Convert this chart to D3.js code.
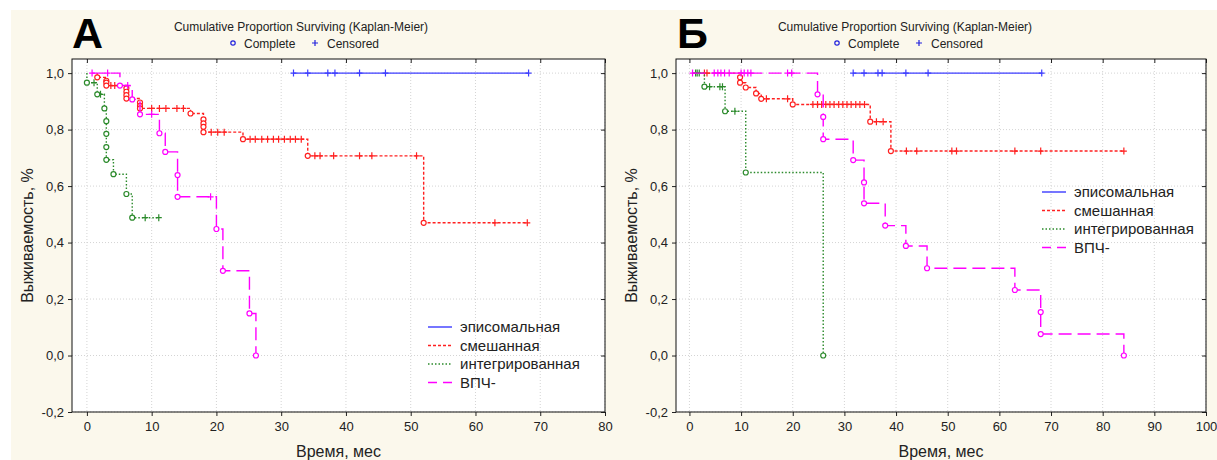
<!DOCTYPE html>
<html>
<head>
<meta charset="utf-8">
<script src="https://cdn.jsdelivr.net/npm/d3@7"></script>
<style>
body { margin: 0; background: #fff; }
text { font-family: Arial, "Liberation Sans", sans-serif; }
</style>
</head>
<body>
<svg id="chart" width="1217" height="460"></svg>
<script>
// Kaplan-Meier curves, two panels (A / Б)

var groupNames = ["эписомальная", "смешанная", "интегрированная", "ВПЧ-"];
var groupColors = ["#3c3cff", "#ff2020", "#2b8a2b", "#ff00ff"];
var groupDash = [null, "3,2", "1.5,2", "13,6"];

var yTicks = [-0.2, 0, 0.2, 0.4, 0.6, 0.8, 1.0];
var xTicksA = [0, 10, 20, 30, 40, 50, 60, 70, 80];
var xTicksB = [0, 10, 20, 30, 40, 50, 60, 70, 80, 90, 100];

// ---- Panel A ----
var epiA_start = 31.9;
var epiA_deathT = [];
var epiA_deathS = [];
var epiA_cens = [31.9, 34.1, 37.2, 38.3, 42.1, 46.1, 68.2];

var mixA_start = 1.6;
var mixA_deathT = [1.6, 3.0, 3.0, 3.0, 6.1, 6.1, 6.1, 6.1, 8.2, 8.2, 8.2, 16.0, 18.0, 18.0, 18.0, 18.0, 24.1, 34.1, 52.0];
var mixA_deathS = [0.985, 0.973, 0.966, 0.956, 0.946, 0.934, 0.922, 0.910, 0.896, 0.884, 0.875, 0.857, 0.836, 0.822, 0.810, 0.791, 0.766, 0.707, 0.470];
var mixA_cens = [3.7, 4.3, 10.0, 11.2, 12.2, 13.9, 14.9, 19.2, 20.2, 21.2, 25.2, 26.0, 27.0, 27.9, 28.8, 29.6, 30.5, 31.4, 32.2, 33.1, 35.2, 36.0, 38.1, 42.1, 44.0, 50.9, 63.0, 68.0];

var intA_start = 0;
var intA_deathT = [0.0, 1.6, 2.7, 3.0, 3.0, 3.0, 3.0, 4.1, 6.1, 7.0];
var intA_deathS = [0.966, 0.925, 0.875, 0.830, 0.785, 0.738, 0.693, 0.642, 0.572, 0.488];
var intA_cens = [1.1, 2.1, 9.0, 11.1];

var hpvA_start = 0.8;
var hpvA_deathT = [5.1, 7.0, 8.2, 11.2, 12.1, 14.0, 14.0, 20.0, 21.0, 25.1, 26.1];
var hpvA_deathS = [0.956, 0.907, 0.854, 0.787, 0.721, 0.639, 0.562, 0.448, 0.300, 0.149, 0.0];
var hpvA_cens = [0.8, 3.2, 6.3, 10.0, 19.1];

// ---- Panel Б ----
var epiB_start = 31.7;
var epiB_deathT = [];
var epiB_deathS = [];
var epiB_cens = [31.7, 33.8, 36.5, 37.3, 41.9, 46.2, 68.2];

var mixB_start = 0.6;
var mixB_deathT = [9.8, 9.8, 10.9, 12.9, 13.9, 20.0, 35.0, 39.0];
var mixB_deathS = [0.985, 0.966, 0.949, 0.928, 0.909, 0.889, 0.828, 0.724];
var mixB_cens = [2.9, 3.4, 14.9, 19.0, 23.9, 24.8, 25.6, 26.4, 27.2, 28.0, 28.9, 29.7, 30.5, 31.3, 32.2, 33.0, 33.9, 36.2, 37.5, 42.0, 44.0, 50.8, 51.7, 63.0, 68.0, 84.1];

var intB_start = 1.2;
var intB_deathT = [2.9, 6.9, 10.9, 25.9];
var intB_deathS = [0.952, 0.865, 0.648, 0.0];
var intB_cens = [1.2, 1.5, 1.9, 3.9, 5.9, 6.4, 8.8];

var hpvB_start = 0.6;
var hpvB_deathT = [24.8, 25.9, 25.9, 31.7, 33.8, 33.8, 37.9, 41.9, 46.0, 63.0, 68.0, 68.0, 84.1];
var hpvB_deathS = [0.925, 0.845, 0.766, 0.692, 0.613, 0.539, 0.460, 0.388, 0.309, 0.232, 0.154, 0.076, 0.0];
var hpvB_cens = [0.6, 4.8, 5.5, 6.1, 6.8, 7.7, 10.0, 10.6, 11.3, 11.9, 19.0, 19.8];


function makeSeries(start, deathT, deathS, cens, idx) {
  return { start: start, deathT: deathT, deathS: deathS, cens: cens, idx: idx };
}

var seriesA = [
  makeSeries(epiA_start, epiA_deathT, epiA_deathS, epiA_cens, 0),
  makeSeries(mixA_start, mixA_deathT, mixA_deathS, mixA_cens, 1),
  makeSeries(intA_start, intA_deathT, intA_deathS, intA_cens, 2),
  makeSeries(hpvA_start, hpvA_deathT, hpvA_deathS, hpvA_cens, 3)
];
var seriesB = [
  makeSeries(epiB_start, epiB_deathT, epiB_deathS, epiB_cens, 0),
  makeSeries(mixB_start, mixB_deathT, mixB_deathS, mixB_cens, 1),
  makeSeries(intB_start, intB_deathT, intB_deathS, intB_cens, 2),
  makeSeries(hpvB_start, hpvB_deathT, hpvB_deathS, hpvB_cens, 3)
];

var svg = d3.select("#chart");

// cream page background
svg.append("rect")
  .attr("x", 11).attr("y", 10)
  .attr("width", 1206).attr("height", 450)
  .attr("fill", "#fbf8ec");

var plotTop = 59, plotBottom = 412;

function yFormat(d) {
  return (d < 0 ? "-" : "") + Math.abs(d).toFixed(1).replace(".", ",");
}

function levelAt(s, t) {
  var lev = 1;
  for (var i = 0; i < s.deathT.length; i++) {
    if (s.deathT[i] <= t) lev = s.deathS[i];
  }
  return lev;
}

function drawPanel(p) {
  var x = d3.scaleLinear().domain([p.xMin, p.xMax]).range([p.left, p.right]);
  var y = d3.scaleLinear().domain([-0.2, 1.05]).range([plotBottom, plotTop]);
  var g = svg.append("g");

  g.append("rect")
    .attr("x", p.left).attr("y", plotTop)
    .attr("width", p.right - p.left).attr("height", plotBottom - plotTop)
    .attr("fill", "#fff");

  // grid
  g.selectAll(".gx").data(p.xTicks).enter().append("line")
    .attr("x1", function(d) { return x(d); })
    .attr("x2", function(d) { return x(d); })
    .attr("y1", plotTop).attr("y2", plotBottom)
    .attr("stroke", "#d4d4d4").attr("stroke-dasharray", "1,2");
  g.selectAll(".gy").data(yTicks).enter().append("line")
    .attr("x1", p.left).attr("x2", p.right)
    .attr("y1", function(d) { return y(d); })
    .attr("y2", function(d) { return y(d); })
    .attr("stroke", "#d4d4d4").attr("stroke-dasharray", "1,2");

  // axes
  var bottom = g.append("g")
    .attr("transform", "translate(0," + plotBottom + ")")
    .call(d3.axisBottom(x).tickValues(p.xTicks).tickSize(4).tickSizeOuter(0).tickPadding(6).tickFormat(d3.format("d")));
  var left = g.append("g")
    .attr("transform", "translate(" + p.left + ",0)")
    .call(d3.axisLeft(y).tickValues(yTicks).tickSize(4).tickSizeOuter(0).tickPadding(4).tickFormat(yFormat));
  var top = g.append("g")
    .attr("transform", "translate(0," + plotTop + ")")
    .call(d3.axisTop(x).tickValues(p.xTicks).tickSize(-4).tickSizeOuter(0).tickFormat(""));
  var right = g.append("g")
    .attr("transform", "translate(" + p.right + ",0)")
    .call(d3.axisRight(y).tickValues(yTicks).tickSize(-4).tickSizeOuter(0).tickFormat(""));
  [bottom, left, top, right].forEach(function(a) {
    a.select(".domain").remove();
    a.selectAll("text").attr("font-size", 13).attr("fill", "#222")
      .style("font-family", "Arial, 'Liberation Sans', sans-serif");
    a.selectAll("line").attr("stroke", "#222");
  });

  g.append("rect")
    .attr("x", p.left).attr("y", plotTop)
    .attr("width", p.right - p.left).attr("height", plotBottom - plotTop)
    .attr("fill", "none").attr("stroke", "#111");

  // survival curves
  var line = d3.line()
    .x(function(d) { return x(d[0]); })
    .y(function(d) { return y(d[1]); })
    .curve(d3.curveStepAfter);

  p.series.forEach(function(s) {
    var pts = [[s.start, 1]];
    s.deathT.forEach(function(t, i) { pts.push([t, s.deathS[i]]); });
    var end = d3.max(s.cens.concat(s.deathT));
    pts.push([end, pts[pts.length - 1][1]]);
    var col = groupColors[s.idx];

    g.append("path")
      .attr("d", line(pts))
      .attr("fill", "none")
      .attr("stroke", col)
      .attr("stroke-width", 1.4)
      .attr("stroke-dasharray", groupDash[s.idx]);

    g.selectAll(null).data(s.cens).enter().append("path")
      .attr("d", "M-3,0H3M0,-3.5V3.5")
      .attr("transform", function(t) { return "translate(" + x(t) + "," + y(levelAt(s, t)) + ")"; })
      .attr("stroke", col).attr("stroke-width", 1.2).attr("fill", "none");

    g.selectAll(null).data(s.deathT).enter().append("circle")
      .attr("cx", function(t) { return x(t); })
      .attr("cy", function(t, i) { return y(s.deathS[i]); })
      .attr("r", 2.5)
      .attr("fill", "#fff")
      .attr("stroke", col).attr("stroke-width", 1.2);
  });

  // axis titles
  g.append("text")
    .attr("transform", "translate(" + p.yTitleX + "," + ((plotTop + plotBottom) / 2) + ") rotate(-90)")
    .attr("text-anchor", "middle")
    .attr("font-size", 16).attr("fill", "#222")
    .text("Выживаемость, %");
  g.append("text")
    .attr("x", (p.left + p.right) / 2).attr("y", 457)
    .attr("text-anchor", "middle")
    .attr("font-size", 16).attr("fill", "#222")
    .text("Время, мес");

  // header
  g.append("text")
    .attr("x", p.letterX).attr("y", 48)
    .attr("font-size", 43).attr("font-weight", "bold").attr("fill", "#000")
    .text(p.letter);
  g.append("text")
    .attr("x", p.titleX).attr("y", 31)
    .attr("text-anchor", "middle")
    .attr("font-size", 12).attr("fill", "#222")
    .text("Cumulative Proportion Surviving (Kaplan-Meier)");
  g.append("circle")
    .attr("cx", p.titleX - 68).attr("cy", 43).attr("r", 2.2)
    .attr("fill", "none").attr("stroke", "#2222dd").attr("stroke-width", 1.2);
  g.append("text")
    .attr("x", p.titleX - 57).attr("y", 47.5)
    .attr("font-size", 12).attr("fill", "#222")
    .text("Complete");
  g.append("path")
    .attr("d", "M-3,0H3M0,-3V3")
    .attr("transform", "translate(" + (p.titleX + 14) + ",43)")
    .attr("stroke", "#2222dd").attr("stroke-width", 1.2);
  g.append("text")
    .attr("x", p.titleX + 26).attr("y", 47.5)
    .attr("font-size", 12).attr("fill", "#222")
    .text("Censored");

  // legend
  var lg = g.append("g").attr("transform", "translate(" + p.legendX + "," + p.legendY + ")");
  groupNames.forEach(function(name, i) {
    lg.append("line")
      .attr("x1", 0).attr("x2", 24)
      .attr("y1", i * 18.5).attr("y2", i * 18.5)
      .attr("stroke", groupColors[i])
      .attr("stroke-width", 1.4)
      .attr("stroke-dasharray", i == 3 ? "9,6" : groupDash[i]);
    lg.append("text")
      .attr("x", 32).attr("y", i * 18.5 + 5)
      .attr("font-size", 15).attr("fill", "#222")
      .text(name);
  });
}

drawPanel({
  left: 72, right: 605, xMin: -2.3, xMax: 80, xTicks: xTicksA,
  series: seriesA, yTitleX: 33, letter: "А", letterX: 72, titleX: 301,
  legendX: 428, legendY: 327
});
drawPanel({
  left: 676, right: 1206, xMin: -2.6, xMax: 100, xTicks: xTicksB,
  series: seriesB, yTitleX: 637, letter: "Б", letterX: 677, titleX: 905,
  legendX: 1042, legendY: 192
});
</script>
</body>
</html>
